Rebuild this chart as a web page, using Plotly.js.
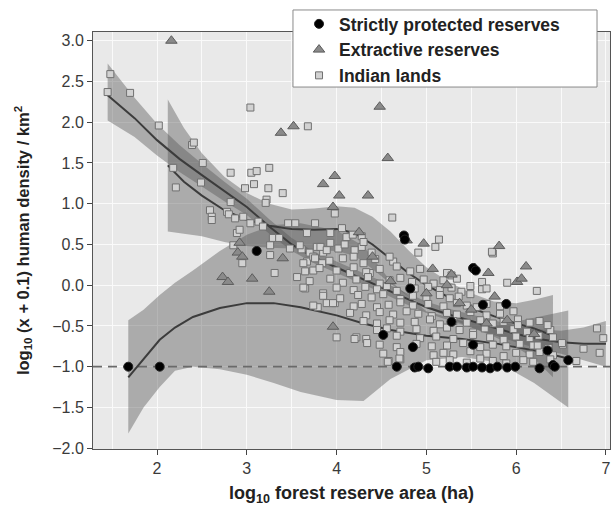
<!DOCTYPE html>
<html><head><meta charset="utf-8">
<script src="https://cdn.plot.ly/plotly-3.0.1.min.js"></script>
<style>html,body{margin:0;padding:0;background:#fff}#chart{width:612px;height:517px}</style>
</head><body><div id="chart"></div>
<script>
// ---------- data ----------
const STRICT_X = [1.68, 2.03, 3.11, 4.75, 4.76, 5.52, 5.55, 4.52, 4.85, 4.82, 5.28, 5.63, 5.89, 5.52, 6.35, 6.41, 6.58,
  4.67, 4.87, 4.91, 5.02, 5.26, 5.45, 5.52, 5.71, 5.79, 5.90, 5.99, 6.26, 6.43, 5.34, 5.62];
const STRICT_Y = [-1.0, -1.0, 0.42, 0.61, 0.56, 0.21, 0.18, -0.61, -0.76, -0.04, -0.45, -0.24, -0.23, -0.73, -0.80, -0.98, -0.92,
  -1.0, -1.01, -1.0, -1.02, -1.0, -1.01, -1.0, -1.02, -1.0, -1.01, -1.0, -1.02, -1.0, -1.0, -1.01];

const EXTR_X = [2.16, 3.38, 3.52, 3.85, 3.98, 4.03, 3.96, 4.48, 4.57, 4.35, 4.78, 4.97, 5.81, 6.11, 5.54, 5.69, 5.07,
  2.92, 2.90, 2.95, 2.73, 2.79, 3.06, 3.25, 3.40, 3.96, 5.28, 6.01, 6.06, 5.23, 5.37, 5.76, 5.90, 5.67,
  4.25, 4.40, 4.60, 5.00, 5.50, 6.20];
const EXTR_Y = [3.00, 1.87, 1.95, 1.24, 1.34, 1.10, 0.96, 2.19, 1.56, 1.10, 0.55, 0.51, 0.48, 0.23, 0.21, 0.15, 0.20,
  0.52, 0.40, 0.35, 0.10, 0.04, 0.08, -0.08, 0.33, -0.51, 0.13, 0.04, 0.08, 0.00, -0.22, -0.14, -0.43, -0.47,
  0.65, 0.35, 0.05, -0.10, -0.30, -0.60];

const INDIAN_X = [
  1.48, 1.45, 1.70, 2.02, 2.39, 2.41, 2.51, 2.18, 2.21, 2.49, 3.04, 3.68, 2.82, 3.05, 3.11, 3.25, 2.98, 3.08, 3.24, 3.40,
  3.22, 3.21, 2.82, 2.59, 2.61, 2.78, 2.80, 2.87, 2.96, 3.04, 3.13, 3.18, 2.89, 3.46, 3.54, 3.76, 3.67, 3.93, 3.98, 3.29, 3.36,
  4.62, 4.06, 4.11, 4.18, 4.28, 4.39, 4.63, 4.91, 5.10, 5.14, 5.74, 3.61, 3.70, 3.78, 3.85, 4.02, 3.67, 3.84, 3.92, 3.74,
  4.15, 4.30, 4.37, 5.23, 5.28,
  2.85, 2.95, 3.26, 3.26, 3.31, 3.56, 3.65, 3.48, 3.59, 3.74, 3.82, 3.89, 3.63, 3.85, 3.79, 3.89, 3.98, 4.00, 2.92, 2.61,
  4.28, 3.93, 4.09, 4.20, 4.30, 3.76, 4.07, 4.19, 4.43, 4.59,
  3.65, 3.81, 4.00, 4.19, 4.33, 4.48, 4.67, 4.82, 4.93,
  3.70, 3.93, 4.07, 4.22, 4.35, 4.48, 4.59, 4.71, 4.84, 4.97, 5.08, 5.19, 5.34,
  4.00, 4.19, 4.32, 4.45, 4.56, 4.67, 4.87, 5.02, 5.15, 5.28, 5.39, 5.49, 5.62,
  3.85, 4.04, 4.24, 4.39, 4.52, 4.71, 4.85, 5.00, 5.15, 5.26, 5.36, 5.49,
  3.74, 3.96, 4.19, 4.28, 4.45, 4.58, 4.71, 4.85, 5.02, 5.19, 5.34, 5.45, 5.56, 5.67, 5.82,
  4.15, 4.33, 4.48, 4.63, 4.78, 4.91, 5.06, 5.23, 5.34, 5.49, 5.67, 5.82, 5.97,
  4.30, 4.45, 4.59, 4.71, 4.87, 5.04, 5.15, 5.30, 5.45, 5.60, 5.74, 5.86, 6.02, 6.15, 6.26,
  4.45, 4.56, 4.71, 4.89, 5.08, 5.23, 5.37, 5.52, 5.65, 5.82, 5.97, 6.12, 6.38,
  4.22, 4.33, 4.67, 4.93, 5.11, 5.30, 5.52, 5.71, 5.86, 6.00, 6.15, 6.25, 6.41,
  4.48, 4.67, 4.89, 5.06, 5.23, 5.41, 5.60, 5.74, 5.89, 6.04, 6.19, 6.36, 6.52,
  4.52, 4.71, 5.08, 5.19, 5.30, 5.49, 5.67, 5.86, 6.00, 6.15, 6.26, 6.41,
  4.58, 4.71, 5.11, 5.26, 5.45, 5.60, 5.74, 5.89, 6.08, 6.19, 6.38, 6.67,
  6.90, 6.97, 6.93, 6.35, 6.51, 6.24, 6.02, 6.23, 5.90, 5.73, 5.62, 5.67, 4.20, 4.34, 4.57, 4.70, 3.63, 6.75
];
const INDIAN_Y = [
  2.59, 2.37, 2.36, 1.96, 1.72, 1.75, 1.50, 1.44, 1.20, 1.26, 2.18, 1.95, 1.38, 1.38, 1.40, 1.44, 1.19, 1.24, 1.19, 1.13,
  1.05, 1.01, 1.02, 0.92, 0.84, 0.90, 0.87, 0.82, 0.84, 0.76, 0.78, 0.72, 0.64, 0.76, 0.76, 0.76, 0.64, 0.64, 0.88, 0.58, 0.58,
  0.83, 0.70, 0.59, 0.62, 0.47, 0.40, 0.29, 0.40, 0.47, 0.56, 0.39, 0.44, 0.40, 0.47, 0.40, 0.45, 0.29, 0.27, 0.30, 0.18,
  0.15, 0.27, 0.15, 0.15, 0.12,
  0.49, 0.27, 0.49, 0.37, 0.15, 0.10, -0.04, 0.45, 0.49, 0.35, 0.47, 0.43, 0.27, -0.10, -0.27, -0.22, -0.22, -0.64, 0.68, 0.80,
  0.60, 0.52, 0.50, 0.43, 0.53, 0.33, 0.33, 0.35, 0.32, 0.35,
  0.17, 0.21, 0.18, 0.22, 0.16, 0.20, 0.23, 0.17, 0.20,
  0.05, 0.08, 0.03, 0.07, 0.10, 0.02, 0.06, 0.09, 0.04, 0.07, 0.02, 0.06, 0.08,
  -0.03, -0.06, -0.02, -0.05, -0.01, -0.07, -0.04, -0.02, -0.06, -0.03, -0.08, -0.01, -0.05,
  -0.13, -0.16, -0.12, -0.15, -0.11, -0.17, -0.13, -0.15, -0.12, -0.16, -0.14, -0.11,
  -0.25, -0.22, -0.26, -0.23, -0.27, -0.24, -0.21, -0.25, -0.23, -0.26, -0.22, -0.25, -0.27, -0.23, -0.26,
  -0.34, -0.37, -0.33, -0.36, -0.32, -0.35, -0.38, -0.34, -0.36, -0.33, -0.37, -0.35, -0.32,
  -0.44, -0.47, -0.43, -0.46, -0.45, -0.42, -0.48, -0.44, -0.46, -0.43, -0.47, -0.45, -0.42, -0.46, -0.44,
  -0.55, -0.53, -0.57, -0.54, -0.56, -0.52, -0.55, -0.58, -0.53, -0.56, -0.54, -0.57, -0.55,
  -0.64, -0.66, -0.62, -0.65, -0.63, -0.66, -0.61, -0.64, -0.67, -0.63, -0.65, -0.62, -0.64,
  -0.73, -0.76, -0.72, -0.75, -0.74, -0.71, -0.76, -0.73, -0.75, -0.72, -0.74, -0.77, -0.73,
  -0.84, -0.82, -0.86, -0.83, -0.85, -0.81, -0.84, -0.87, -0.83, -0.85, -0.82, -0.86,
  -0.93, -0.91, -0.94, -0.92, -0.95, -0.90, -0.93, -0.96, -0.92, -0.94, -0.91, -0.93,
  -0.53, -0.65, -0.83, -0.49, -0.71, -0.74, -0.49, -0.07, 0.03, 0.41, 0.04, -0.04, -0.66, -0.71, -0.94, -0.90, -0.03, -0.78
];

// smoothed fits with confidence bands
const FIT_I_X  = [1.45, 1.75, 2.0, 2.25, 2.5, 2.75, 3.0, 3.25, 3.5, 3.75, 4.0, 4.25, 4.5, 4.75, 5.0, 5.25, 5.5, 5.75, 6.0, 6.25, 6.5, 6.75, 7.0];
const FIT_I_Y  = [2.33, 2.05, 1.78, 1.55, 1.35, 1.15, 0.96, 0.72, 0.50, 0.34, 0.22, 0.10, -0.02, -0.15, -0.27, -0.36, -0.44, -0.52, -0.60, -0.66, -0.70, -0.72, -0.72];
const FIT_I_LO = [2.02, 1.82, 1.59, 1.39, 1.21, 1.03, 0.86, 0.63, 0.42, 0.27, 0.15, 0.03, -0.09, -0.22, -0.34, -0.43, -0.52, -0.61, -0.70, -0.78, -0.84, -0.92, -1.00];
const FIT_I_HI = [2.72, 2.30, 1.98, 1.72, 1.49, 1.27, 1.06, 0.81, 0.58, 0.41, 0.29, 0.17, 0.05, -0.08, -0.20, -0.29, -0.36, -0.43, -0.50, -0.54, -0.56, -0.52, -0.44];

const FIT_E_X  = [2.12, 2.3, 2.5, 2.75, 3.0, 3.25, 3.5, 3.75, 4.0, 4.2, 4.4, 4.6, 4.8, 5.0, 5.25, 5.5, 5.75, 6.0, 6.2, 6.41];
const FIT_E_Y  = [1.47, 1.27, 1.10, 0.92, 0.80, 0.73, 0.69, 0.68, 0.69, 0.64, 0.50, 0.33, 0.15, 0.00, -0.15, -0.28, -0.38, -0.47, -0.53, -0.62];
const FIT_E_LO = [0.66, 0.63, 0.60, 0.53, 0.48, 0.46, 0.45, 0.43, 0.42, 0.36, 0.20, 0.02, -0.14, -0.27, -0.40, -0.52, -0.63, -0.76, -0.90, -1.13];
const FIT_E_HI = [2.28, 1.93, 1.62, 1.33, 1.13, 1.00, 0.93, 0.94, 0.97, 0.95, 0.84, 0.66, 0.43, 0.22, 0.04, -0.10, -0.20, -0.22, -0.18, -0.12];

const FIT_S_X  = [1.68, 1.85, 2.03, 2.2, 2.4, 2.7, 3.0, 3.3, 3.6, 4.0, 4.3, 4.6, 5.0, 5.4, 5.8, 6.2, 6.58];
const FIT_S_Y  = [-1.13, -0.90, -0.67, -0.52, -0.39, -0.28, -0.22, -0.22, -0.27, -0.37, -0.47, -0.55, -0.62, -0.66, -0.72, -0.80, -0.90];
const FIT_S_LO = [-1.82, -1.50, -1.25, -1.05, -1.00, -1.03, -1.10, -1.20, -1.31, -1.41, -1.42, -1.15, -0.92, -0.88, -0.95, -1.20, -1.50];
const FIT_S_HI = [-0.43, -0.30, -0.12, 0.03, 0.18, 0.42, 0.62, 0.74, 0.76, 0.67, 0.48, 0.05, -0.32, -0.44, -0.49, -0.40, -0.31];

const REF_LEVEL = -1.0;
const X_RANGE = [1.287, 7.045];
const Y_RANGE = [-2.01, 3.107];
const LEGEND_NAMES = ['Strictly protected reserves', 'Extractive reserves', 'Indian lands'];

// ---------- drawing ----------
const BAND = 'rgba(85,85,85,0.42)';
const LINE = '#3c3c3c';
function band(xs, lo, hi) {
  return {x: xs.concat(xs.slice().reverse()), y: hi.concat(lo.slice().reverse()),
    type: 'scatter', mode: 'none', fill: 'toself', fillcolor: BAND, showlegend: false, hoverinfo: 'skip'};
}
function fit(xs, ys) {
  return {x: xs, y: ys, type: 'scatter', mode: 'lines', line: {color: LINE, width: 2}, showlegend: false, hoverinfo: 'skip'};
}
const traces = [
  band(FIT_S_X, FIT_S_LO, FIT_S_HI),
  band(FIT_E_X, FIT_E_LO, FIT_E_HI),
  band(FIT_I_X, FIT_I_LO, FIT_I_HI),
  {x: X_RANGE, y: [REF_LEVEL, REF_LEVEL], type: 'scatter', mode: 'lines', showlegend: false, hoverinfo: 'skip',
   line: {color: '#6a6a6a', width: 1.8, dash: '9px,6px'}},
  fit(FIT_S_X, FIT_S_Y), fit(FIT_E_X, FIT_E_Y), fit(FIT_I_X, FIT_I_Y),
  {x: INDIAN_X, y: INDIAN_Y, type: 'scatter', mode: 'markers', name: LEGEND_NAMES[2], legendgroup: 'c',
   marker: {symbol: 'square', size: 7, color: '#d2d2d2', line: {color: '#707070', width: 1}}},
  {x: EXTR_X, y: EXTR_Y, type: 'scatter', mode: 'markers', name: LEGEND_NAMES[1], legendgroup: 'b',
   marker: {symbol: 'triangle-up', size: 10, color: '#8a8a8a', line: {color: '#5c5c5c', width: 1}}},
  {x: STRICT_X, y: STRICT_Y, type: 'scatter', mode: 'markers', name: LEGEND_NAMES[0], legendgroup: 'a',
   marker: {symbol: 'circle', size: 9, color: '#000', line: {color: '#222', width: 1}}}
];
const FONT = 'Arial, "Liberation Sans", sans-serif';
const layout = {
  width: 612, height: 517,
  margin: {l: 93, r: 2, t: 32, b: 68},
  paper_bgcolor: '#fff', plot_bgcolor: '#e9e9e9',
  font: {family: FONT, color: '#333', size: 16},
  showlegend: true,
  legend: {x: 0.3985, y: 1.0624, xanchor: 'left', yanchor: 'top', bgcolor: 'rgba(0,0,0,0)', borderwidth: 0,
    traceorder: 'reversed', tracegroupgap: 0,
    font: {family: FONT, size: 17.5, color: '#222', weight: 'bold'}},
  // legend frame
  shapes: [{type: 'rect', xref: 'paper', yref: 'paper', x0: 0.3868, x1: 0.9749, y0: 0.868, y1: 1.0528,
    fillcolor: '#fff', line: {color: '#8a8a8a', width: 1}, layer: 'above'}],
  xaxis: {range: X_RANGE, dtick: 1, tick0: 0, ticks: 'outside', ticklen: 5, tickcolor: '#444',
    showline: true, linecolor: '#555', linewidth: 1, mirror: true, zeroline: false,
    showgrid: true, gridcolor: '#fafafa', gridwidth: 1,
    minor: {dtick: 0.5, showgrid: true, gridcolor: '#fafafa', ticks: ''},
    tickfont: {size: 16, color: '#3a3a3a'},
    title: {text: '<b>log<sub>10</sub> forest reserve area (ha)</b>', font: {size: 18, color: '#222'}, standoff: 10}},
  yaxis: {range: Y_RANGE, dtick: 0.5, tick0: 0, tickformat: '.1f', ticks: 'outside', ticklen: 5, tickcolor: '#444',
    showline: true, linecolor: '#555', linewidth: 1, mirror: true, zeroline: false,
    showgrid: true, gridcolor: '#fafafa', gridwidth: 1,
    tickfont: {size: 16, color: '#3a3a3a'},
    title: {text: '<b>log<sub>10</sub> (x + 0.1) human density / km<sup>2</sup></b>', font: {size: 16.5, color: '#222'}, standoff: 18}}
};
Plotly.newPlot('chart', traces, layout, {displayModeBar: false, staticPlot: true});
</script></body></html>
